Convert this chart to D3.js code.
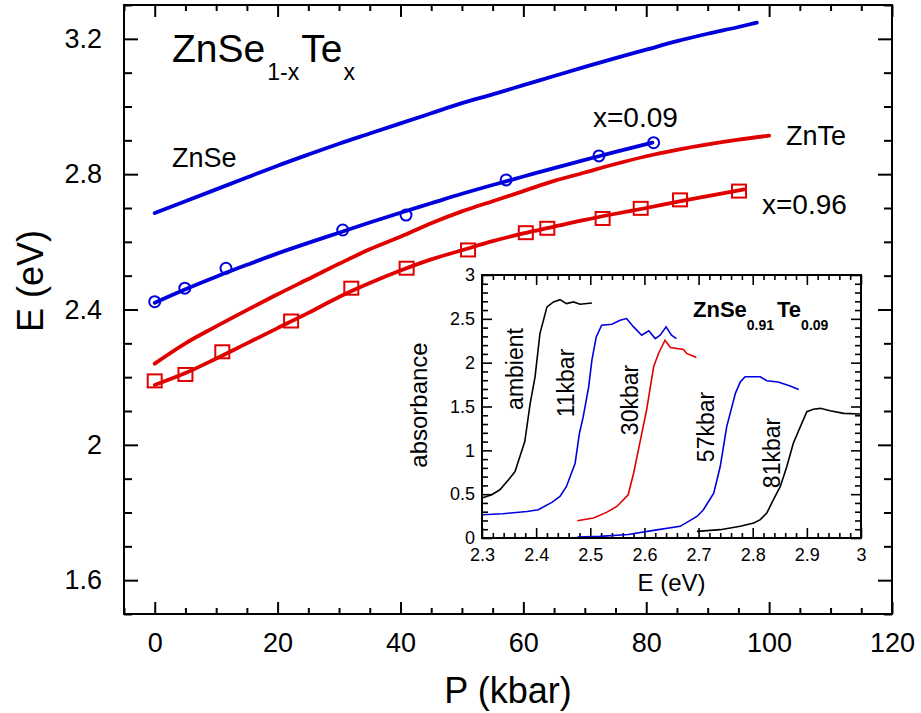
<!DOCTYPE html>
<html><head><meta charset="utf-8">
<script src="https://cdn.jsdelivr.net/npm/d3@7"></script>
<style>
body{margin:0;background:#fff;}
text{font-family:"Liberation Sans",Arial,sans-serif;fill:#000;}
</style></head>
<body>
<svg id="chart" width="921" height="713"></svg>
<script>
// ---------- Main chart data (E in eV vs P in kbar) ----------
const xTicks = [0,20,40,60,80,100,120];
const yTicks = [1.6,2.0,2.4,2.8,3.2];
const yTickLabels = ["1.6","2","2.4","2.8","3.2"];

const znseP = [0,5,10,15,20,25,30,35,40,45,50,55,60,65,70,75,80,85,90,95,98];
const znseE = [2.685,2.72,2.755,2.79,2.825,2.858,2.89,2.92,2.95,2.98,3.01,3.036,3.063,3.09,3.117,3.143,3.168,3.193,3.215,3.235,3.248];

const x09LineP = [0,5,10,15,20,25,30,35,40,45,50,55,60,65,70,75,81];
const x09LineE = [2.42,2.46,2.497,2.532,2.566,2.597,2.627,2.657,2.686,2.714,2.742,2.768,2.793,2.818,2.842,2.866,2.893];
const x09PtsP = [0,4.9,11.6,30.6,40.9,57.2,72.3,81.2];
const x09PtsE = [2.423,2.463,2.522,2.635,2.679,2.783,2.854,2.893];

const zntePLine = [0,5,10,15,20,25,30,35,40,45,50,55,60,65,70,75,80,85,90,95,100];
const znteELine = [2.24,2.30,2.35,2.398,2.445,2.49,2.535,2.578,2.615,2.655,2.69,2.72,2.75,2.78,2.805,2.83,2.853,2.872,2.888,2.902,2.914];

const x96LineP = [0,5,10,15,20,25,30,35,40,45,50,55,60,65,70,75,80,85,90,96];
const x96LineE = [2.177,2.212,2.255,2.3,2.345,2.39,2.437,2.478,2.515,2.548,2.575,2.602,2.625,2.645,2.665,2.683,2.70,2.718,2.735,2.755];
const x96PtsP = [0,5,11,22.2,32,41,51,60.4,63.9,72.9,79.1,85.5,95.1];
const x96PtsE = [2.189,2.208,2.275,2.366,2.463,2.522,2.576,2.627,2.640,2.669,2.699,2.724,2.750];

// ---------- Inset data (absorbance vs E) ----------
const insetXTicks = [2.3,2.4,2.5,2.6,2.7,2.8,2.9,3.0];
const insetXTickLabels = ["2.3","2.4","2.5","2.6","2.7","2.8","2.9","3"];
const insetYTicks = [0,0.5,1,1.5,2,2.5,3];
const insetYTickLabels = ["0","0.5","1","1.5","2","2.5","3"];

const ambE = [2.300,2.318,2.333,2.349,2.361,2.370,2.379,2.389,2.398,2.407,2.420,2.432,2.444,2.456,2.469,2.481,2.503];
const ambA = [0.455,0.493,0.55,0.664,0.758,0.929,1.10,1.536,1.839,2.332,2.636,2.693,2.719,2.674,2.693,2.666,2.681];

const k11E = [2.300,2.339,2.383,2.404,2.429,2.444,2.456,2.472,2.480,2.487,2.497,2.503,2.511,2.521,2.540,2.555,2.567,2.580,2.595,2.608,2.620,2.629,2.640,2.650,2.659];
const k11A = [0.265,0.277,0.303,0.322,0.406,0.474,0.588,0.853,1.195,1.384,1.725,2.029,2.294,2.427,2.438,2.484,2.503,2.408,2.313,2.363,2.275,2.313,2.408,2.313,2.275];

const k30E = [2.476,2.506,2.530,2.549,2.570,2.580,2.592,2.604,2.617,2.626,2.638,2.648,2.672,2.678,2.696];
const k30A = [0.197,0.228,0.292,0.360,0.493,0.739,1.100,1.460,1.953,2.105,2.256,2.173,2.150,2.105,2.059];

const k57E = [2.476,2.518,2.570,2.617,2.666,2.697,2.709,2.728,2.740,2.752,2.768,2.777,2.786,2.814,2.826,2.847,2.869,2.885];
const k57A = [0.01,0.019,0.04,0.087,0.133,0.246,0.322,0.512,0.815,1.27,1.65,1.78,1.839,1.839,1.794,1.78,1.733,1.695];

const k81E = [2.697,2.740,2.777,2.802,2.814,2.826,2.838,2.851,2.863,2.875,2.888,2.900,2.912,2.925,2.943,2.968,2.999];
const k81A = [0.076,0.095,0.133,0.171,0.209,0.284,0.436,0.588,0.815,1.081,1.27,1.441,1.468,1.479,1.452,1.422,1.414];

const BLUE = "#0000dd", RED = "#e00000";
const zip = (a,b) => a.map((v,i)=>[v,b[i]]);

const svg = d3.select("#chart");

// ---------- main scales ----------
const L=124,R=892,T=5,B=614;
const x = d3.scaleLinear().domain([-5,120]).range([L,R]);
const y = d3.scaleLinear().domain([1.5,3.3]).range([B,T]);

const xMinor = d3.range(-5,121,5).filter(v=>v%20!==0);
const yMinor = d3.range(15,34,1).map(v=>v/10).filter(v=>Math.abs(v*10%4)>1e-6 && v>1.5-1e-9);

function addAxis(g, axis){ g.call(axis); g.select(".domain").remove(); g.selectAll("line").attr("stroke","#000").attr("stroke-width",2); }

// minor ticks
addAxis(svg.append("g").attr("transform",`translate(0,${B})`), d3.axisBottom(x).tickValues(xMinor).tickSize(-6).tickFormat(""));
addAxis(svg.append("g").attr("transform",`translate(0,${T})`), d3.axisTop(x).tickValues(xMinor).tickSize(-6).tickFormat(""));
addAxis(svg.append("g").attr("transform",`translate(${L},0)`), d3.axisLeft(y).tickValues(yMinor).tickSize(-8).tickFormat(""));
addAxis(svg.append("g").attr("transform",`translate(${R},0)`), d3.axisRight(y).tickValues(yMinor).tickSize(-8).tickFormat(""));
// major ticks
addAxis(svg.append("g").attr("transform",`translate(0,${B})`), d3.axisBottom(x).tickValues(xTicks).tickSize(-12).tickPadding(19).tickFormat(d3.format("d")));
addAxis(svg.append("g").attr("transform",`translate(0,${T})`), d3.axisTop(x).tickValues(xTicks).tickSize(-12).tickFormat(""));
addAxis(svg.append("g").attr("transform",`translate(${L},0)`), d3.axisLeft(y).tickValues(yTicks).tickSize(-14).tickPadding(22).tickFormat((d,i)=>yTickLabels[i]));
addAxis(svg.append("g").attr("transform",`translate(${R},0)`), d3.axisRight(y).tickValues(yTicks).tickSize(-14).tickFormat(""));
svg.selectAll(".tick text").attr("font-size",27).attr("font-family",'"Liberation Sans",Arial,sans-serif').attr("fill","#000");

svg.append("rect").attr("x",L).attr("y",T).attr("width",R-L).attr("height",B-T)
  .attr("fill","none").attr("stroke","#000").attr("stroke-width",2);

// axis titles
svg.append("text").attr("x",(L+R)/2).attr("y",703).attr("text-anchor","middle").attr("font-size",36).text("P (kbar)");
svg.append("text").attr("transform","translate(43,281) rotate(-90)").attr("text-anchor","middle").attr("font-size",36).text("E (eV)");

// curves
const line = d3.line().x(d=>x(d[0])).y(d=>y(d[1])).curve(d3.curveMonotoneX);
const curves = [
  [zip(znseP,znseE),BLUE],[zip(x09LineP,x09LineE),BLUE],
  [zip(zntePLine,znteELine),RED],[zip(x96LineP,x96LineE),RED]];
curves.forEach(([d,c])=>svg.append("path").datum(d).attr("d",line).attr("fill","none").attr("stroke",c).attr("stroke-width",3.8).attr("stroke-linecap","round"));

svg.append("g").selectAll("circle").data(zip(x09PtsP,x09PtsE)).join("circle")
  .attr("cx",d=>x(d[0])).attr("cy",d=>y(d[1])).attr("r",5.5)
  .attr("fill","none").attr("stroke",BLUE).attr("stroke-width",2);
svg.append("g").selectAll("rect").data(zip(x96PtsP,x96PtsE)).join("rect")
  .attr("x",d=>x(d[0])-7).attr("y",d=>y(d[1])-6.5).attr("width",14).attr("height",13)
  .attr("fill","none").attr("stroke",RED).attr("stroke-width",2);

// labels
const title = svg.append("text").attr("x",172).attr("y",62).attr("font-size",39);
title.append("tspan").text("ZnSe");
title.append("tspan").attr("font-size",23).attr("dy",18).attr("dx",2).text("1-x");
title.append("tspan").attr("dy",-18).attr("dx",2).text("Te");
title.append("tspan").attr("font-size",23).attr("dy",18).attr("dx",1).text("x");

svg.append("text").attr("x",172).attr("y",167).attr("font-size",27).text("ZnSe");
svg.append("text").attr("x",593).attr("y",127).attr("font-size",28).text("x=0.09");
svg.append("text").attr("x",786).attr("y",145).attr("font-size",27).text("ZnTe");
svg.append("text").attr("x",762).attr("y",214).attr("font-size",28).text("x=0.96");

// ---------- inset ----------
const IL=482,IR=861,IT=275,IB=538;
const ix = d3.scaleLinear().domain([2.3,3.0]).range([IL,IR]);
const iy = d3.scaleLinear().domain([0,3]).range([IB,IT]);
const inset = svg.append("g");
inset.append("rect").attr("x",IL).attr("y",IT).attr("width",IR-IL).attr("height",IB-IT).attr("fill","#fff");

const ixMinor = d3.range(115,151,1).map(v=>v/50).filter(v=>Math.abs(v*10-Math.round(v*10))>1e-6);
const iyMinor = d3.range(0,31,1).map(v=>v/10).filter(v=>Math.abs(v*2-Math.round(v*2))>1e-6);

function ax(g,axis){ g.call(axis); g.select(".domain").remove(); g.selectAll("line").attr("stroke","#000").attr("stroke-width",1.6); }
ax(inset.append("g").attr("transform",`translate(0,${IB})`), d3.axisBottom(ix).tickValues(ixMinor).tickSize(-5).tickFormat(""));
ax(inset.append("g").attr("transform",`translate(0,${IT})`), d3.axisTop(ix).tickValues(ixMinor).tickSize(-5).tickFormat(""));
ax(inset.append("g").attr("transform",`translate(${IL},0)`), d3.axisLeft(iy).tickValues(iyMinor).tickSize(-6).tickFormat(""));
ax(inset.append("g").attr("transform",`translate(${IR},0)`), d3.axisRight(iy).tickValues(iyMinor).tickSize(-6).tickFormat(""));
ax(inset.append("g").attr("transform",`translate(0,${IB})`), d3.axisBottom(ix).tickValues(insetXTicks).tickSize(-10).tickPadding(10).tickFormat((d,i)=>insetXTickLabels[i]));
ax(inset.append("g").attr("transform",`translate(0,${IT})`), d3.axisTop(ix).tickValues(insetXTicks).tickSize(-10).tickFormat(""));
ax(inset.append("g").attr("transform",`translate(${IL},0)`), d3.axisLeft(iy).tickValues(insetYTicks).tickSize(-10).tickPadding(7).tickFormat((d,i)=>insetYTickLabels[i]));
ax(inset.append("g").attr("transform",`translate(${IR},0)`), d3.axisRight(iy).tickValues(insetYTicks).tickSize(-10).tickFormat(""));
inset.selectAll(".tick text").attr("font-size",18).attr("font-family",'"Liberation Sans",Arial,sans-serif').attr("fill","#000");

const iline = d3.line().x(d=>ix(d[0])).y(d=>iy(d[1]));
[[zip(ambE,ambA),"#000"],[zip(k11E,k11A),BLUE],[zip(k30E,k30A),RED],[zip(k57E,k57A),BLUE],[zip(k81E,k81A),"#000"]]
  .forEach(([d,c])=>inset.append("path").datum(d).attr("d",iline).attr("fill","none").attr("stroke",c).attr("stroke-width",1.6));

inset.append("rect").attr("x",IL).attr("y",IT).attr("width",IR-IL).attr("height",IB-IT)
  .attr("fill","none").attr("stroke","#000").attr("stroke-width",2);

const rl = [["ambient",515,369],["11kbar",566,383],["30kbar",630,400],["57kbar",706,427],["81kbar",772,453]];
rl.forEach(([t,cx,cy])=>inset.append("text").attr("transform",`translate(${cx+8},${cy}) rotate(-90)`)
  .attr("text-anchor","middle").attr("font-size",23).text(t));

inset.append("text").attr("transform","translate(427,405) rotate(-90)").attr("text-anchor","middle").attr("font-size",24).text("absorbance");
inset.append("text").attr("x",(IL+IR)/2).attr("y",591).attr("text-anchor","middle").attr("font-size",24).text("E (eV)");

const it = inset.append("text").attr("x",693).attr("y",317).attr("font-size",22).attr("font-weight","bold");
it.append("tspan").text("ZnSe");
it.append("tspan").attr("font-size",14).attr("dy",13).text("0.91");
it.append("tspan").attr("dy",-13).attr("dx",3).text("Te");
it.append("tspan").attr("font-size",14).attr("dy",13).text("0.09");
</script>
</body></html>
